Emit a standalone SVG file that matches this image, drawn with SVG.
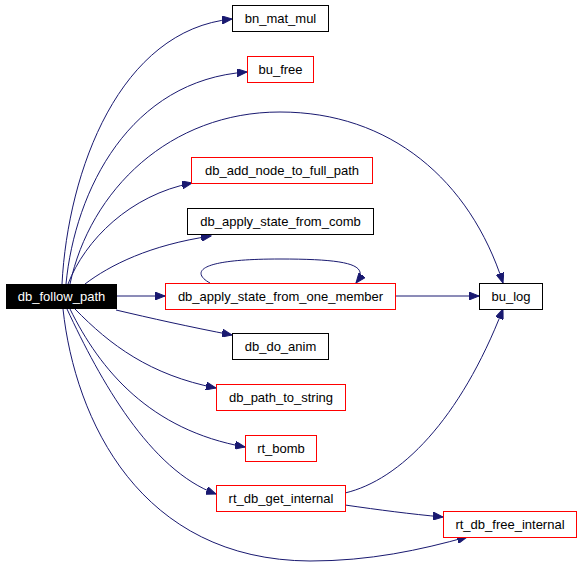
<svg xmlns="http://www.w3.org/2000/svg" width="581" height="585" viewBox="0 0 581 585">
<style>
.n rect{fill:#ffffff;stroke:#000000;stroke-width:1}
.n.r rect{stroke:#ff0000}
.n text{font-family:"Liberation Sans",Arial,sans-serif;font-size:13px;fill:#000000;text-anchor:middle}
.n.root rect{fill:#000000;stroke:#000000}
.n.root text{fill:#ffffff}
.e path{fill:none;stroke:#191970;stroke-width:1;marker-end:url(#ah)}
</style>
<defs>
<marker id="ah" markerUnits="userSpaceOnUse" markerWidth="11" markerHeight="8" refX="10" refY="4" orient="auto">
<path d="M0,0 L10,4 L0,8 z" fill="#191970" stroke="#191970" stroke-width="1"/>
</marker>
</defs>
<rect width="581" height="585" fill="#ffffff"/>
<g id="connectors" class="e">
<path d="M62,284 C68,170 120,30 232,19"/>
<path d="M66,284 C75,190 130,80 247,72"/>
<path d="M70,284 C90,190 170,112 280,112 C390,112 470,180 503,283"/>
<path d="M68,284 C85,240 130,195 192,183"/>
<path d="M85,284 C110,265 150,245 211,236"/>
<path d="M116,296 L165,296"/>
<path d="M210,283 C195,275 188,259 280,259 C350,259 370,265 356,283"/>
<path d="M395,296 L479,296"/>
<path d="M116,310 C150,318 190,327 232,335"/>
<path d="M75,309 C110,345 150,375 216,388"/>
<path d="M70,309 C100,370 150,430 245,447"/>
<path d="M67,309 C100,380 150,470 216,494"/>
<path d="M63,309 C75,420 140,560 310,561 C370,561 420,550 467,537"/>
<path d="M345,493 C400,480 460,420 503,309"/>
<path d="M345,505 C380,510 410,514 443,517"/>
</g>
<g id="db_follow_path" class="n root"><rect x="6.5" y="284.5" width="110" height="24"/><text x="61.5" y="301">db_follow_path</text></g>
<g id="bn_mat_mul" class="n"><rect x="232.5" y="5.5" width="96" height="26"/><text x="280.5" y="23">bn_mat_mul</text></g>
<g id="bu_free" class="n r"><rect x="247.5" y="56.5" width="66" height="26"/><text x="280.5" y="74">bu_free</text></g>
<g id="db_add_node_to_full_path" class="n r"><rect x="191.5" y="157.5" width="181" height="26"/><text x="282" y="175">db_add_node_to_full_path</text></g>
<g id="db_apply_state_from_comb" class="n"><rect x="187.5" y="208.5" width="186" height="26"/><text x="280.5" y="226">db_apply_state_from_comb</text></g>
<g id="db_apply_state_from_one_member" class="n r"><rect x="165.5" y="283.5" width="230" height="26"/><text x="280.5" y="301">db_apply_state_from_one_member</text></g>
<g id="bu_log" class="n"><rect x="479.5" y="283.5" width="63" height="26"/><text x="511" y="301">bu_log</text></g>
<g id="db_do_anim" class="n"><rect x="232.5" y="333.5" width="96" height="26"/><text x="280.5" y="351">db_do_anim</text></g>
<g id="db_path_to_string" class="n r"><rect x="216.5" y="384.5" width="129" height="26"/><text x="281" y="402">db_path_to_string</text></g>
<g id="rt_bomb" class="n r"><rect x="245.5" y="435.5" width="71" height="26"/><text x="281" y="453">rt_bomb</text></g>
<g id="rt_db_get_internal" class="n r"><rect x="216.5" y="485.5" width="129" height="26"/><text x="281" y="503">rt_db_get_internal</text></g>
<g id="rt_db_free_internal" class="n r"><rect x="443.5" y="511.5" width="133" height="26"/><text x="510" y="529">rt_db_free_internal</text></g>
</svg>
